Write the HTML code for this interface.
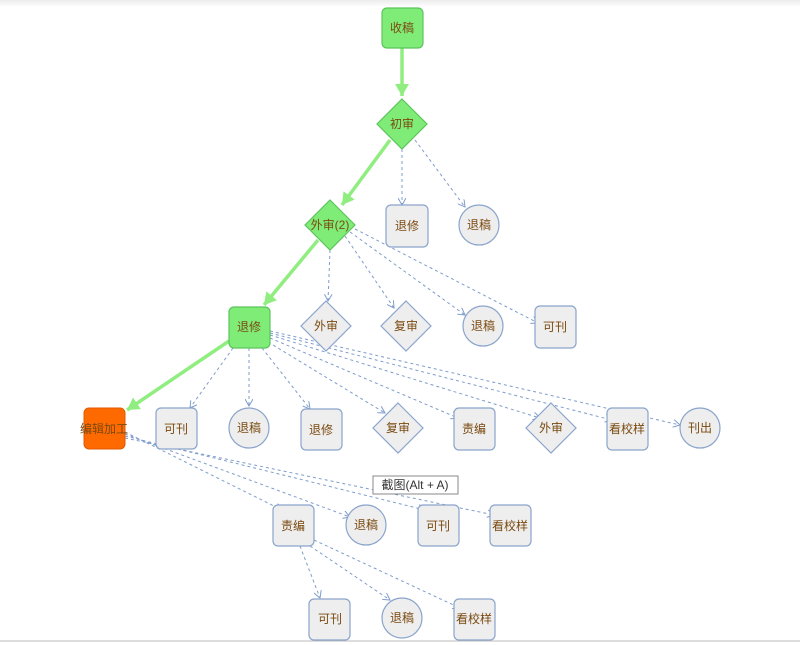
<!DOCTYPE html>
<html><head><meta charset="utf-8"><style>
html,body{margin:0;padding:0;background:#fff;width:800px;height:645px;overflow:hidden}
svg{display:block}
text{font-family:"Liberation Sans","Noto Sans CJK SC",sans-serif;font-size:12px;fill:#7a4a10;text-anchor:middle;dominant-baseline:central}
.r{fill:#eeeeee;stroke:#8aa4cc;stroke-width:1.2}
.g{fill:#80ec78;stroke:#5cc45a;stroke-width:1.2}
.d{stroke:#7e9ccc;stroke-width:1;stroke-dasharray:3,3;fill:none}
.t{stroke:#90ee80;stroke-width:3.5;fill:none}
</style></head><body>
<svg width="800" height="645" viewBox="0 0 800 645">
<defs>
<linearGradient id="tg" x1="0" y1="0" x2="0" y2="1"><stop offset="0" stop-color="#ececec"/><stop offset="1" stop-color="#fff"/></linearGradient>
<marker id="a" markerWidth="8" markerHeight="8" refX="7" refY="4" orient="auto" markerUnits="userSpaceOnUse"><path d="M0,0 L7,4 L0,8" fill="none" stroke="#7e9ccc" stroke-width="1"/></marker>
<marker id="ga" markerWidth="14" markerHeight="14" refX="12" refY="7" orient="auto" markerUnits="userSpaceOnUse"><path d="M0,0 L12,7 L0,14 Z" fill="#90ee80"/></marker>
</defs>
<rect x="0" y="0" width="800" height="7" fill="url(#tg)"/>
<line x1="0" y1="641" x2="800" y2="641" stroke="#bbb" stroke-width="1"/>

<!-- thick green -->
<line class="t" x1="402" y1="48" x2="402" y2="96" marker-end="url(#ga)"/>
<line class="t" x1="390" y1="140" x2="342" y2="205" marker-end="url(#ga)"/>
<line class="t" x1="318" y1="240" x2="264" y2="305" marker-end="url(#ga)"/>
<line class="t" x1="229" y1="341" x2="127" y2="410" marker-end="url(#ga)"/>

<!-- dashed -->
<g marker-end="url(#a)">
<line class="d" x1="402" y1="149" x2="402" y2="205" marker-end="url(#a)"/>
<line class="d" x1="415" y1="140" x2="465" y2="207" marker-end="url(#a)"/>
<line class="d" x1="330" y1="250" x2="328" y2="301" marker-end="url(#a)"/>
<line class="d" x1="345" y1="236" x2="394" y2="308" marker-end="url(#a)"/>
<line class="d" x1="350" y1="232" x2="465" y2="315" marker-end="url(#a)"/>
<line class="d" x1="355" y1="229" x2="538" y2="323" marker-end="url(#a)"/>
<line class="d" x1="233" y1="348" x2="190" y2="408" marker-end="url(#a)"/>
<line class="d" x1="249" y1="348" x2="249" y2="406" marker-end="url(#a)"/>
<line class="d" x1="262" y1="348" x2="310" y2="409" marker-end="url(#a)"/>
<line class="d" x1="268" y1="342" x2="385" y2="413" marker-end="url(#a)"/>
<line class="d" x1="270" y1="338" x2="458" y2="418" marker-end="url(#a)"/>
<line class="d" x1="270" y1="335" x2="540" y2="418" marker-end="url(#a)"/>
<line class="d" x1="270" y1="333" x2="612" y2="420" marker-end="url(#a)"/>
<line class="d" x1="270" y1="331" x2="680" y2="425" marker-end="url(#a)"/>
<line class="d" x1="125" y1="432" x2="282" y2="510" marker-end="url(#a)"/>
<line class="d" x1="125" y1="434" x2="350" y2="517" marker-end="url(#a)"/>
<line class="d" x1="125" y1="436" x2="425" y2="510" marker-end="url(#a)"/>
<line class="d" x1="125" y1="438" x2="494" y2="515" marker-end="url(#a)"/>
<line class="d" x1="300" y1="546" x2="320" y2="598" marker-end="url(#a)"/>
<line class="d" x1="310" y1="546" x2="390" y2="600" marker-end="url(#a)"/>
<line class="d" x1="314" y1="540" x2="460" y2="608" marker-end="url(#a)"/>
</g>

<!-- nodes -->
<rect class="g" x="382" y="8" width="41" height="40" rx="5"/><text x="402" y="28">收稿</text>
<polygon class="g" points="402,99 427,124 402,149 377,124"/><text x="402" y="124">初审</text>
<rect class="r" x="386" y="205" width="42" height="42" rx="5"/><text x="407" y="226">退修</text>
<circle class="r" cx="479" cy="225" r="20"/><text x="479" y="225">退稿</text>
<polygon class="g" points="330,200 355,225 330,250 305,225"/><text x="330" y="225">外审(2)</text>

<rect class="g" x="229" y="307" width="41" height="41" rx="5"/><text x="249" y="327">退修</text>
<polygon class="r" points="326,301 351,326 326,351 301,326"/><text x="326" y="326">外审</text>
<polygon class="r" points="406,301 431,326 406,351 381,326"/><text x="406" y="326">复审</text>
<circle class="r" cx="483" cy="326" r="20"/><text x="483" y="326">退稿</text>
<rect class="r" x="535" y="306" width="41" height="42" rx="5"/><text x="555" y="327">可刊</text>

<rect x="84" y="408" width="41" height="41" rx="5" fill="#ff6a00" stroke="#e05a00"/><text x="104" y="429">编辑加工</text>
<rect class="r" x="156" y="408" width="41" height="41" rx="5"/><text x="176" y="429">可刊</text>
<circle class="r" cx="249" cy="428" r="20"/><text x="249" y="428">退稿</text>
<rect class="r" x="301" y="409" width="41" height="41" rx="5"/><text x="321" y="430">退修</text>
<polygon class="r" points="398,403 423,428 398,453 373,428"/><text x="398" y="428">复审</text>
<rect class="r" x="454" y="408" width="41" height="42" rx="5"/><text x="474" y="429">责编</text>
<polygon class="r" points="551,403 576,428 551,453 526,428"/><text x="551" y="428">外审</text>
<rect class="r" x="607" y="408" width="41" height="42" rx="5"/><text x="627" y="429">看校样</text>
<circle class="r" cx="700" cy="428" r="20"/><text x="700" y="428">刊出</text>

<rect class="r" x="273" y="505" width="41" height="41" rx="5"/><text x="293" y="526">责编</text>
<circle class="r" cx="366" cy="525" r="20"/><text x="366" y="525">退稿</text>
<rect class="r" x="418" y="505" width="41" height="41" rx="5"/><text x="438" y="526">可刊</text>
<rect class="r" x="490" y="505" width="41" height="41" rx="5"/><text x="510" y="526">看校样</text>

<rect class="r" x="309" y="599" width="41" height="41" rx="5"/><text x="330" y="619">可刊</text>
<circle class="r" cx="402" cy="618" r="20"/><text x="402" y="618">退稿</text>
<rect class="r" x="454" y="599" width="41" height="41" rx="5"/><text x="474" y="619">看校样</text>

<rect x="373" y="476" width="85" height="18" fill="#fff" stroke="#888" stroke-width="1"/>
<text x="415" y="485" style="fill:#333;font-size:12px">截图(Alt + A)</text>
</svg>
</body></html>
